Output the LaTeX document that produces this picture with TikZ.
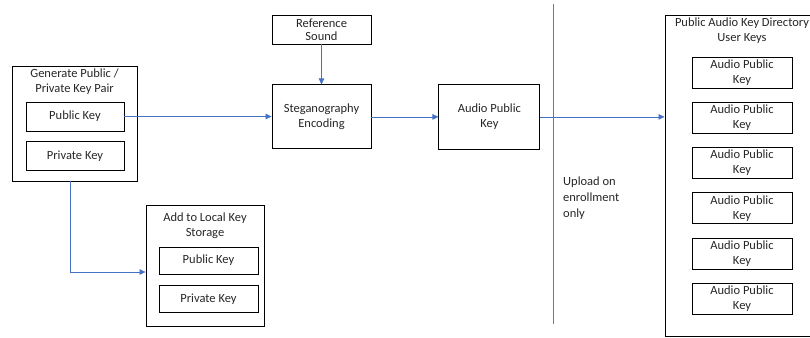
\documentclass[tikz,border=0pt]{standalone}
\usepackage{fontspec}
\setmainfont{Carlito}
\usepackage{xcolor}
\usetikzlibrary{arrows.meta, positioning}
\definecolor{linkblue}{RGB}{68,114,196}

\begin{document}
\begin{tikzpicture}[
    x=1pt, y=-1pt,
    font=\fontsize{12.5}{15}\selectfont,
    block/.style={rectangle, draw=black, line width=0.9pt, minimum width=99pt, minimum height=29pt, align=center, inner sep=1pt, text=black!85},
    group/.style={rectangle, draw=black, line width=0.9pt, inner sep=0pt},
    title/.style={anchor=north, align=center, inner sep=3pt, text=black!85},
    arrow/.style={-{Triangle[length=6pt, width=5.5pt]}, draw=linkblue, line width=0.6pt},
    divider/.style={draw=red!75, line width=0.4pt}
]
\useasboundingbox (0,0) rectangle (810,337);

\node (gen) [group, minimum width=125pt, minimum height=115pt] at (74.5,123.5) {};
\node (gentitle) [title] at (gen.north) {Generate Public /\\Private Key Pair};
\node (genpub) [block, minimum width=98pt] at (75,116.5) {Public Key};
\node (genpriv) [block, minimum width=98pt, below=10pt of genpub] {Private Key};

\node (loc) [group, minimum width=118pt, minimum height=121pt] at (205,265.5) {};
\node (loctitle) [title, inner sep=8pt] at (loc.north) {Add to Local Key\\Storage};
\node (locpub) [block, minimum height=27pt] at (208.5,260.5) {Public Key};
\node (locpriv) [block, minimum height=27pt, below=11pt of locpub] {Private Key};

\node (ref) [block, font=\fontsize{12.5}{13}\selectfont] at (321.5,29.5) {Reference\\Sound};
\node (steg) [block, minimum height=64pt, below=40pt of ref] {Steganography\\Encoding};
\node (apk) [block, minimum width=101pt, minimum height=65pt, right=67pt of steg] {Audio Public\\Key};

\coordinate (divtop) at (553,4);
\coordinate (divbot) at (553,324);
\draw [divider] (divtop) -- (divbot);
\node (upload) [anchor=north west, align=left, inner sep=0pt, text=black!85, font=\fontsize{12.5}{16}\selectfont] at (563,177) {Upload on\\enrollment\\only};

\node (dir) [group, minimum width=154pt, minimum height=321pt] at (742,175.5) {};
\node (dirtitle) [title] at (dir.north) {Public Audio Key Directory\\User Keys};
\node (key1) [block, minimum width=100pt, minimum height=31pt] at (742,72.5) {Audio Public\\Key};
\node (key2) [block, minimum width=100pt, minimum height=31pt, below=13.4pt of key1] {Audio Public\\Key};
\node (key3) [block, minimum width=100pt, minimum height=31pt, below=13.4pt of key2] {Audio Public\\Key};
\node (key4) [block, minimum width=100pt, minimum height=31pt, below=13.4pt of key3] {Audio Public\\Key};
\node (key5) [block, minimum width=100pt, minimum height=31pt, below=13.4pt of key4] {Audio Public\\Key};
\node (key6) [block, minimum width=100pt, minimum height=31pt, below=13.4pt of key5] {Audio Public\\Key};

\draw [arrow] (genpub.east) -- (genpub.east -| steg.west);
\draw [arrow] (ref) -- (steg);
\draw [arrow] (steg) -- (apk);
\draw [arrow] (apk.east) -- (apk.east -| dir.west);
\draw [arrow] ([xshift=-4.5pt]gen.south) |- ([yshift=-6.5pt]loc.west);
\end{tikzpicture}
\end{document}
